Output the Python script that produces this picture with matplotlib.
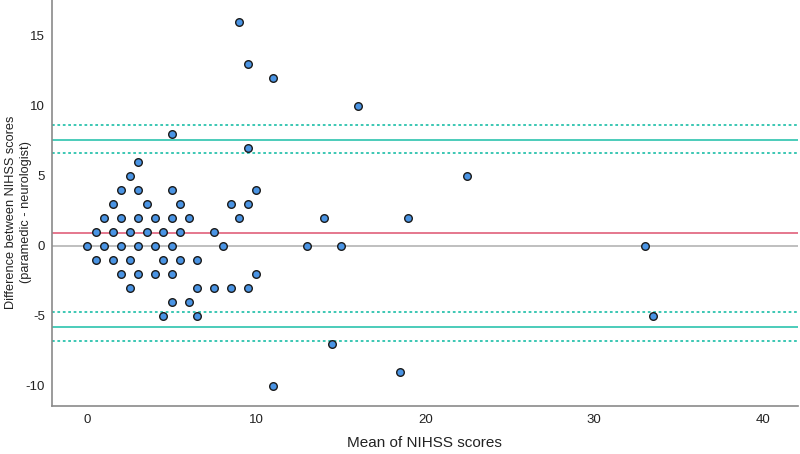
import matplotlib
matplotlib.use("Agg")
import matplotlib.pyplot as plt
from matplotlib import font_manager

# Data: mean of NIHSS scores (x) and difference paramedic - neurologist (y)
mean_scores = [9, 9.5, 11, 16, 5, 9.5, 3, 2.5, 22.5,
               2, 3, 5, 10,
               1.5, 3.5, 5.5, 8.5, 9.5,
               1, 2, 3, 4, 5, 6, 9, 14, 19,
               0.5, 1.5, 2.5, 3.5, 4.5, 5.5, 7.5,
               0, 1, 2, 3, 4, 5, 8, 13, 15, 33,
               0.5, 1.5, 2.5, 4.5, 5.5, 6.5,
               2, 3, 4, 5, 10,
               2.5, 6.5, 7.5, 8.5, 9.5,
               5, 6,
               4.5, 6.5, 33.5,
               14.5, 18.5, 11]
diff_scores = [16, 13, 12, 10, 8, 7, 6, 5, 5,
               4, 4, 4, 4,
               3, 3, 3, 3, 3,
               2, 2, 2, 2, 2, 2, 2, 2, 2,
               1, 1, 1, 1, 1, 1, 1,
               0, 0, 0, 0, 0, 0, 0, 0, 0, 0,
               -1, -1, -1, -1, -1, -1,
               -2, -2, -2, -2, -2,
               -3, -3, -3, -3, -3,
               -4, -4,
               -5, -5, -5,
               -7, -9, -10]

mean_diff = 0.88
loa_upper = 7.57
loa_upper_ci = [6.6, 8.6]
loa_lower = -5.78
loa_lower_ci = [-4.75, -6.8]

x_ticks = [0, 10, 20, 30, 40]
y_ticks = [-10, -5, 0, 5, 10, 15]

names = {f.name for f in font_manager.fontManager.ttflist}
fam = ["Liberation Sans", "DejaVu Sans"]
fam = [f for f in fam if f in names] or ["DejaVu Sans"]
plt.rcParams['font.family'] = fam
plt.rcParams['axes.unicode_minus'] = False

fig = plt.figure(figsize=(8.0, 4.54), dpi=100)
ax = fig.add_axes([0.065, 0.106, 0.932, 0.894])

teal = "#2cc3ae"
ax.axhline(0, color="#b4b4b4", lw=1.2, zorder=1)
ax.axhline(mean_diff, color="#e0607a", lw=1.2, zorder=1)
ax.axhline(loa_upper, color=teal, lw=1.2, zorder=1)
ax.axhline(loa_lower, color=teal, lw=1.2, zorder=1)
for v in loa_upper_ci + loa_lower_ci:
    ax.axhline(v, color=teal, lw=1.3, ls=(0, (1.5, 1.5)), zorder=1)

ax.scatter(mean_scores, diff_scores, s=30, c="#4a94e4", edgecolors="#1a1a1a",
           linewidths=1.0, zorder=3)

ax.set_xlim(-2.1, 42.05)
ax.set_ylim(-11.45, 17.55)
ax.set_xticks(x_ticks)
ax.set_yticks(y_ticks)
ax.tick_params(axis="both", length=0, labelsize=9.5, colors="#222222")
ax.tick_params(axis="x", pad=6)
ax.tick_params(axis="y", pad=5)
for s in ["top", "right"]:
    ax.spines[s].set_visible(False)
for s in ["left", "bottom"]:
    ax.spines[s].set_color("#8a8a8a")
    ax.spines[s].set_linewidth(1.2)

ax.set_xlabel("Mean of NIHSS scores", fontsize=11, color="#222222")
ax.xaxis.set_label_coords(0.5, -0.073)
ax.set_ylabel("Difference between NIHSS scores\n(paramedic - neurologist)",
              fontsize=9.2, color="#222222", linespacing=1.35)
ax.yaxis.set_label_coords(-0.027, 0.478)

fig.savefig("out.png", dpi=100)
